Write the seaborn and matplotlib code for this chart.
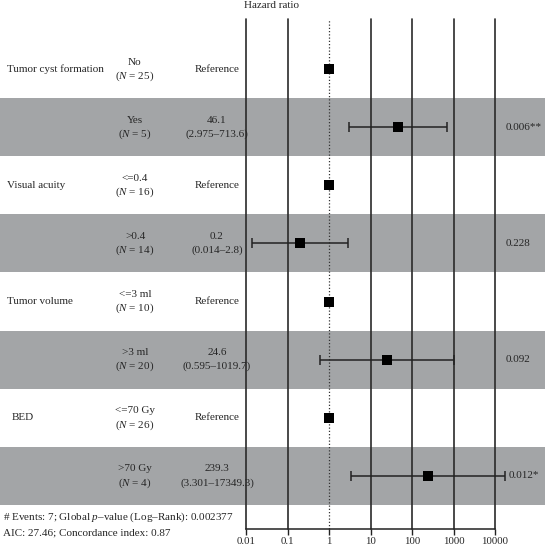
import numpy as np
import pandas as pd
import matplotlib
matplotlib.use("Agg")
import matplotlib.pyplot as plt
import matplotlib.transforms as mtransforms
from matplotlib.patches import Rectangle
import seaborn as sns

# ---- data ----
variables = ["Tumor cyst formation", "", "Visual acuity", "", "Tumor volume", "", "BED", ""]
groups = ["No", "Yes", "<=0.4", ">0.4", "<=3 ml", ">3 ml", "<=70 Gy", ">70 Gy"]
n_obs = [25, 5, 16, 14, 10, 20, 26, 4]
hr = [1, 46.1, 1, 0.2, 1, 24.6, 1, 239.3]
ci_low = [np.nan, 2.975, np.nan, 0.014, np.nan, 0.595, np.nan, 3.301]
ci_high = [np.nan, 713.6, np.nan, 2.8, np.nan, 1019.7, np.nan, 17349.3]
est_text = ["Reference", "46.1\n(2.975\u2013713.6)", "Reference", "0.2\n(0.014\u20132.8)",
            "Reference", "24.6\n(0.595\u20131019.7)", "Reference", "239.3\n(3.301\u201317349.3)"]
p_text = ["", "0.006**", "", "0.228", "", "0.092", "", "0.012*"]
x_ticks = [0.01, 0.1, 1, 10, 100, 1000, 10000]
x_tick_labels = ["0.01", "0.1", "1", "10", "100", "1000", "10000"]
footnote = ["# Events: 7; Global $\\it{p}$\u2013value (Log\u2013Rank): 0.002377",
            "AIC: 27.46; Concordance index: 0.87"]

df = pd.DataFrame({"row": np.arange(len(hr)), "hr": hr, "lo": ci_low, "hi": ci_high})

sns.set_theme(style="white")
plt.rcParams["font.family"] = ["Liberation Serif", "DejaVu Serif"]
plt.rcParams["mathtext.fontset"] = "custom"
plt.rcParams["mathtext.rm"] = "Liberation Serif"
plt.rcParams["mathtext.it"] = "Liberation Serif:italic"

W, H = 545, 546
fig = plt.figure(figsize=(W / 100, H / 100), dpi=100)
fig.patch.set_facecolor("white")

# axes: x from px 246 to 495, y from px 19 to 529
x0, x1 = 246, 495
ytop, ybot = 19, 529
ax = fig.add_axes([x0 / W, 1 - ybot / H, (x1 - x0) / W, (ybot - ytop) / H])
ax.set_facecolor("none")
ax.set_xscale("log")
ax.set_xlim(0.01, 10000)
row_h = 58.1
ylim_top = -(69 - ytop) / row_h
ylim_bot = 7 + (ybot - 476) / row_h
ax.set_ylim(ylim_bot, ylim_top)

fs = 8
blend = mtransforms.blended_transform_factory(fig.transFigure, ax.transData)

# gray bands
for i in range(len(hr)):
    if i % 2 == 1:
        r = Rectangle((0, i - 0.5), 1.0, 1.0, transform=blend, facecolor="#a3a5a7",
                      edgecolor="none", clip_on=False, zorder=0)
        ax.add_patch(r)

# vertical lines
for t in x_ticks:
    if t == 1:
        ax.axvline(t, color="#333333", lw=0.9, ls=(0, (1, 1.6)), zorder=1, clip_on=False)
    else:
        ax.axvline(t, color="#2a2a2a", lw=1.2, zorder=1, clip_on=False)

# error bars
m = df["lo"].notna()
ax.errorbar(df.loc[m, "hr"], df.loc[m, "row"],
            xerr=[df.loc[m, "hr"] - df.loc[m, "lo"], df.loc[m, "hi"] - df.loc[m, "hr"]],
            fmt="none", ecolor="#222222", elinewidth=1.1, capsize=3.3, capthick=1.1,
            zorder=3, clip_on=False)
sns.scatterplot(data=df, x="hr", y="row", marker="s", s=54, color="black",
                edgecolor="black", linewidth=0, ax=ax, zorder=4, legend=False)

# text columns
for i in range(len(hr)):
    if variables[i]:
        xv = 12 if variables[i] == "BED" else 7
        ax.text(xv / W, i, variables[i], transform=blend, ha="left", va="center", fontsize=fs)
    ax.text(135 / W, i - 0.12, groups[i], transform=blend, ha="center", va="center", fontsize=fs)
    ax.text(135 / W, i + 0.12, "($\\it{N}$ = %d)" % n_obs[i], transform=blend,
            ha="center", va="center", fontsize=fs)
    lines = est_text[i].split("\n")
    if len(lines) == 1:
        ax.text(217 / W, i, lines[0], transform=blend, ha="center", va="center", fontsize=fs)
    else:
        ax.text(217 / W, i - 0.12, lines[0], transform=blend, ha="center", va="center", fontsize=fs)
        ax.text(217 / W, i + 0.12, lines[1], transform=blend, ha="center", va="center", fontsize=fs)
    if p_text[i]:
        xp = 509 if p_text[i].endswith("*") and not p_text[i].endswith("**") else 506
        ax.text(xp / W, i, p_text[i], transform=blend, ha="left", va="center", fontsize=fs)

# axis styling
for s in ["top", "right", "left"]:
    ax.spines[s].set_visible(False)
ax.spines["bottom"].set_color("#222222")
ax.spines["bottom"].set_linewidth(1.1)
ax.set_yticks([])
ax.set_xticks(x_ticks)
ax.set_xticklabels(x_tick_labels, fontsize=7.8)
ax.minorticks_off()
ax.tick_params(axis="x", direction="out", length=4, width=1, color="#222222", pad=2, bottom=True)
ax.set_xlabel("")
ax.set_ylabel("")

fig.text(272 / W, 1 - 6 / H, "Hazard ratio", ha="center", va="center", fontsize=fs)
fig.text(3 / W, 1 - 517 / H, footnote[0], ha="left", va="center", fontsize=fs)
fig.text(3 / W, 1 - 533 / H, footnote[1], ha="left", va="center", fontsize=fs)

fig.savefig("out.png", dpi=100, facecolor="white")
